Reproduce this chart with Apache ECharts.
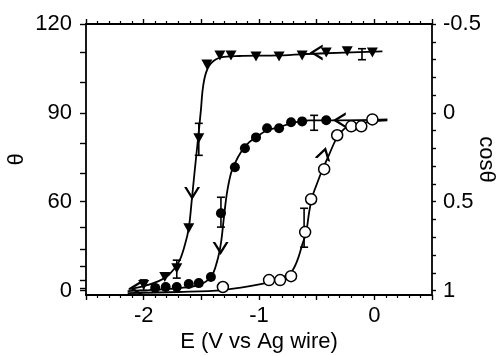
<!DOCTYPE html>
<html>
<head>
<meta charset="utf-8">
<script src="https://cdn.jsdelivr.net/npm/echarts@6/dist/echarts.min.js"></script>
<style>
  html, body { margin: 0; padding: 0; background: #fff; }
  #chart { width: 497px; height: 356px; }
</style>
</head>
<body>
<div id="chart"></div>
<script>
// x: E (V vs Ag wire); y values are read on the cos(theta) axis (right side)

// filled down-triangles
const triangleE = [-2.0, -1.817, -1.713, -1.609, -1.522, -1.452, -1.339, -1.243, -1.026, -0.826, -0.626, -0.417, -0.235, -0.017];
const triangleCos = [0.969, 0.924, 0.874, 0.649, 0.143, -0.272, -0.323, -0.323, -0.317, -0.317, -0.323, -0.340, -0.346, -0.340];

// filled circles
const filledE = [-1.9, -1.809, -1.713, -1.609, -1.522, -1.417, -1.330, -1.209, -1.122, -1.026, -0.930, -0.826, -0.722, -0.626, -0.417];
const filledCos = [0.985, 0.980, 0.980, 0.963, 0.958, 0.924, 0.565, 0.306, 0.199, 0.138, 0.087, 0.087, 0.053, 0.048, 0.042];

// open circles
const openE = [-1.313, -0.913, -0.817, -0.722, -0.600, -0.548, -0.435, -0.322, -0.200, -0.113, -0.017];
const openCos = [0.980, 0.941, 0.941, 0.919, 0.671, 0.486, 0.317, 0.126, 0.076, 0.076, 0.037];

// fitted curves
const triangleFitE = [-2.130, -2.0, -1.870, -1.783, -1.696, -1.643, -1.609, -1.583, -1.557, -1.530, -1.504, -1.487, -1.461, -1.417, -1.330, -1.174, -0.826, -0.478, 0.07];
const triangleFitCos = [0.992, 0.975, 0.947, 0.913, 0.840, 0.744, 0.649, 0.492, 0.323, 0.154, -0.014, -0.138, -0.222, -0.278, -0.312, -0.320, -0.323, -0.334, -0.346];

const filledFitE = [-2.139, -1.957, -1.696, -1.522, -1.417, -1.365, -1.330, -1.304, -1.278, -1.243, -1.209, -1.157, -1.087, -1.026, -0.930, -0.826, -0.722, -0.565, -0.304, 0.113];
const filledFitCos = [1.003, 0.997, 0.986, 0.969, 0.924, 0.840, 0.733, 0.587, 0.452, 0.340, 0.284, 0.222, 0.166, 0.138, 0.098, 0.081, 0.059, 0.042, 0.042, 0.037];

const openFitE = [-2.139, -1.696, -1.313, -0.974, -0.826, -0.722, -0.670, -0.626, -0.591, -0.565, -0.539, -0.496, -0.452, -0.391, -0.322, -0.243, -0.157, -0.017, 0.113];
const openFitCos = [1.014, 1.008, 0.997, 0.963, 0.935, 0.896, 0.834, 0.744, 0.671, 0.559, 0.475, 0.396, 0.323, 0.233, 0.138, 0.081, 0.065, 0.048, 0.042];

// error bars: E, low, high
const errorBars = [
  [-2.0, 0.94, 1.0],
  [-1.713, 0.829, 0.930],
  [-1.522, 0.059, 0.239],
  [-0.107, -0.361, -0.299],
  [-1.330, 0.475, 0.643],
  [-0.522, 0.014, 0.098],
  [-0.609, 0.537, 0.756]
];

// direction arrows on the curves
const arrowsDown = [[-1.580, 0.454], [-1.333, 0.763]];
const arrowsLeft = [[-0.504, -0.340], [-0.304, 0.042], [-2.07, 0.986]];
const arrowsUp = [[-0.435, 0.228]];

// axis ticks
const xTickLabels = [-2, -1, 0];
const cosLabelValues = [-0.5, 0, 0.5, 1];
const thetaLabels = ['120', '90', '60', '0'];
const thetaTickDegrees = [0, 10, 20, 30, 40, 50, 60, 70, 80, 90, 100, 110, 120];
const cosTickValues = [-0.5, -0.4, -0.3, -0.2, -0.1, 0, 0.1, 0.2, 0.3, 0.4, 0.5, 0.6, 0.7, 0.8, 0.9, 1.0];

const FONT = "'Liberation Sans', Arial, Helvetica, sans-serif";
const INK = '#000';
const CHEVRON = 'path://M0,0 L8,13 L16,0 L13.4,0 L8,8.6 L2.6,0 Z';

const zip = (xs, ys) => xs.map((x, i) => [x, ys[i]]);

function renderErrorBar(params, api) {
  const x = api.value(0);
  const lo = api.coord([x, api.value(1)]);
  const hi = api.coord([x, api.value(2)]);
  const cap = 4;
  const style = { stroke: INK, lineWidth: 1.6 };
  return {
    type: 'group',
    children: [
      { type: 'line', shape: { x1: lo[0], y1: lo[1], x2: hi[0], y2: hi[1] }, style },
      { type: 'line', shape: { x1: lo[0] - cap, y1: lo[1], x2: lo[0] + cap, y2: lo[1] }, style },
      { type: 'line', shape: { x1: hi[0] - cap, y1: hi[1], x2: hi[0] + cap, y2: hi[1] }, style }
    ]
  };
}

function fitLine(data) {
  return {
    type: 'line',
    data,
    smooth: 0.35,
    showSymbol: false,
    silent: true,
    z: 2,
    lineStyle: { color: INK, width: 1.8 }
  };
}

function arrowSeries(data, rotate) {
  return {
    type: 'scatter',
    data,
    symbol: CHEVRON,
    symbolSize: [16, 13],
    symbolRotate: rotate,
    itemStyle: { color: INK, opacity: 1 },
    silent: true,
    z: 5
  };
}

const xAxisBase = {
  type: 'value',
  min: -2.5,
  max: 0.5,
  interval: 0.5,
  splitLine: { show: false },
  axisLine: { show: true, onZero: false, lineStyle: { color: INK, width: 1.8 } },
  axisTick: { show: true, length: 5, lineStyle: { color: INK, width: 1.4 } },
  minorTick: { show: true, splitNumber: 5, length: 3, lineStyle: { color: INK, width: 1.2 } }
};

const yAxisBase = {
  type: 'value',
  min: -0.5,
  max: 1.025,
  inverse: true,
  splitLine: { show: false },
  axisLine: { show: true, onZero: false, lineStyle: { color: INK, width: 1.8 } }
};

const option = {
  animation: false,
  backgroundColor: '#fff',
  grid: { left: 86, right: 65, top: 24, bottom: 61, containLabel: false, outerBoundsMode: 'none' },
  xAxis: [
    {
      ...xAxisBase,
      position: 'bottom',
      name: 'E (V vs Ag wire)',
      nameLocation: 'middle',
      nameGap: 36,
      nameMoveOverlap: false,
      nameTextStyle: { color: INK, fontSize: 22, fontFamily: FONT },
      axisLabel: {
        color: INK,
        fontSize: 22,
        fontFamily: FONT,
        margin: 10,
        formatter: (v) => (xTickLabels.includes(v) ? String(v) : '')
      }
    },
    {
      ...xAxisBase,
      position: 'top',
      axisLabel: { show: false }
    }
  ],
  yAxis: [
    {
      ...yAxisBase,
      position: 'left',
      name: 'θ',
      nameLocation: 'middle',
      nameGap: 58,
      nameMoveOverlap: false,
      nameTextStyle: { color: INK, fontSize: 22, fontFamily: FONT },
      axisTick: {
        show: true,
        length: 6,
        customValues: thetaTickDegrees.map((d) => Math.cos(d * Math.PI / 180)),
        lineStyle: { color: INK, width: 1.4 }
      },
      axisLabel: {
        color: INK,
        fontSize: 22,
        fontFamily: FONT,
        margin: 14,
        customValues: cosLabelValues,
        formatter: (v) => thetaLabels[cosLabelValues.indexOf(v)]
      }
    },
    {
      ...yAxisBase,
      position: 'right',
      name: 'cosθ',
      nameLocation: 'middle',
      nameGap: 43,
      nameRotate: -90,
      nameMoveOverlap: false,
      nameTextStyle: { color: INK, fontSize: 22, fontFamily: FONT },
      axisTick: {
        show: true,
        length: 4,
        customValues: cosTickValues,
        lineStyle: { color: INK, width: 1.4 }
      },
      axisLabel: {
        color: INK,
        fontSize: 22,
        fontFamily: FONT,
        margin: 11,
        customValues: cosLabelValues,
        formatter: (v) => String(v)
      }
    }
  ],
  series: [
    fitLine(zip(triangleFitE, triangleFitCos)),
    fitLine(zip(filledFitE, filledFitCos)),
    fitLine(zip(openFitE, openFitCos)),
    {
      type: 'custom',
      data: errorBars,
      renderItem: renderErrorBar,
      encode: { x: 0, y: [1, 2] },
      silent: true,
      z: 3
    },
    {
      type: 'scatter',
      data: zip(triangleE, triangleCos),
      symbol: 'triangle',
      symbolRotate: 180,
      symbolSize: [11, 10],
      itemStyle: { color: INK, opacity: 1 },
      z: 4
    },
    {
      type: 'scatter',
      data: zip(filledE, filledCos),
      symbol: 'circle',
      symbolSize: 10,
      itemStyle: { color: INK, opacity: 1 },
      z: 4
    },
    {
      type: 'scatter',
      data: zip(openE, openCos),
      symbol: 'circle',
      symbolSize: 11,
      itemStyle: { color: '#fff', borderColor: INK, borderWidth: 1.5, opacity: 1 },
      z: 4
    },
    arrowSeries(arrowsDown, 0),
    arrowSeries(arrowsLeft, -90),
    arrowSeries(arrowsUp, 165)
  ]
};

const chart = echarts.init(document.getElementById('chart'), null, { renderer: 'canvas' });
chart.setOption(option);
</script>
</body>
</html>
